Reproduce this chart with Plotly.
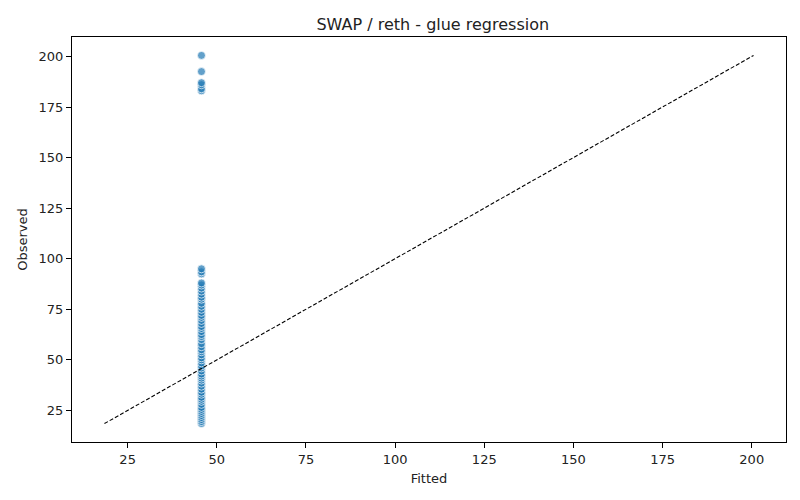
import plotly.graph_objects as go

# Observed values, all with the same fitted value
observed = [18.5, 19.5, 20.5, 21.5, 22.5, 23.5, 24.5, 25.5, 26.5, 28, 29.5, 30.5,
            31.5, 33, 34, 35.5, 37, 38.5, 40, 41, 42, 43, 44.5, 46, 47, 48.5, 50,
            51, 52.5, 54, 55, 56.5, 58, 60, 61.5, 62.5, 64, 65.5, 66.5, 68, 69.5,
            71, 72, 73.5, 75, 76.5, 78, 80, 81, 82.5, 84, 85.5, 87, 88, 92.5, 93.5,
            95, 183, 184, 186, 187, 192.5, 200.5]
fitted = [45.7] * len(observed)
tick_vals = [25, 50, 75, 100, 125, 150, 175, 200]

lo = min(min(observed), min(fitted))
hi = max(max(observed), max(fitted))
pad = (hi - lo) * 0.05
rng = [lo - pad, hi + pad]

fig = go.Figure()
fig.add_trace(go.Scatter(
    x=fitted, y=observed, mode="markers",
    marker=dict(size=8, color="rgba(31,119,180,0.7)",
                line=dict(color="white", width=0.7)),
    showlegend=False))
fig.add_trace(go.Scatter(
    x=[lo, hi], y=[lo, hi], mode="lines",
    line=dict(color="black", width=1.1, dash="4px,2px"),
    showlegend=False))

axis = dict(range=rng, showgrid=False, zeroline=False, showline=True, mirror=True,
            linecolor="black", linewidth=1, ticks="outside", ticklen=5,
            tickcolor="black", tickfont=dict(size=13, color="#222"),
            tickvals=tick_vals, automargin=False)
fig.update_xaxes(title=dict(text="Fitted", font=dict(size=13, color="#222"),
                            standoff=8), **axis)
fig.update_yaxes(title=dict(text="Observed", font=dict(size=13, color="#222"),
                            standoff=8), **axis)

fig.update_layout(
    width=800, height=500,
    plot_bgcolor="white", paper_bgcolor="white",
    font=dict(family="DejaVu Sans"),
    title=dict(text="SWAP / reth - glue regression", x=0.531, xanchor="center",
               y=0.968, yanchor="middle", font=dict(size=16, color="#222")),
    margin=dict(l=64, r=22, t=29, b=66),
)

fig.write_html("out.html")
